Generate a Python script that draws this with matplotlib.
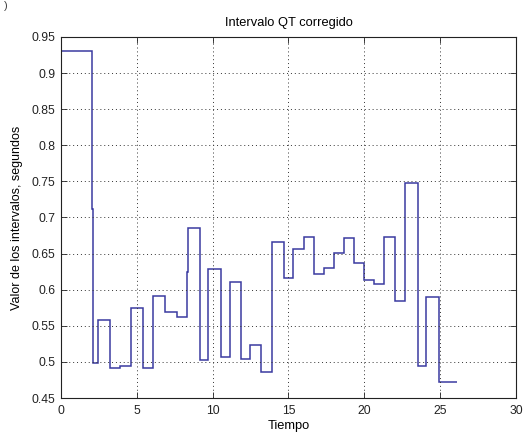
import matplotlib
matplotlib.use("Agg")
import matplotlib.pyplot as plt

# Step edges (time, s) and QTc interval values (s)
edges = [0.0, 2.02, 2.08, 2.46, 3.23, 3.89, 4.59, 5.43, 6.04, 6.88, 7.63, 8.28, 8.37,
         9.17, 9.70, 10.53, 11.12, 11.87, 12.49, 13.17, 13.88, 14.69, 15.31, 16.04,
         16.70, 17.36, 18.02, 18.66, 19.34, 20.00, 20.66, 21.32, 22.05, 22.71, 23.53,
         24.08, 24.95, 26.10]
values = [0.930, 0.712, 0.498, 0.558, 0.491, 0.495, 0.575, 0.491, 0.591, 0.569, 0.562,
          0.625, 0.686, 0.503, 0.629, 0.507, 0.610, 0.504, 0.524, 0.486, 0.666, 0.616,
          0.656, 0.673, 0.622, 0.630, 0.651, 0.671, 0.637, 0.613, 0.608, 0.673, 0.585,
          0.748, 0.495, 0.590, 0.472]

xticks = [0, 5, 10, 15, 20, 25, 30]
yticks = [0.45, 0.5, 0.55, 0.6, 0.65, 0.7, 0.75, 0.8, 0.85, 0.9, 0.95]
ytick_labels = ["0.45", "0.5", "0.55", "0.6", "0.65", "0.7", "0.75", "0.8", "0.85", "0.9", "0.95"]

plt.rcParams['font.family'] = ['Liberation Sans', 'DejaVu Sans']

fig = plt.figure(figsize=(5.24, 4.32), dpi=100)
ax = fig.add_axes([0.1164, 0.0787, 0.8683, 0.8357])

ax.stairs(values, edges, baseline=None, color='#3a3aa0', linewidth=1.1)

ax.set_xlim(0, 30)
ax.set_ylim(0.45, 0.95)
ax.set_xticks(xticks)
ax.set_yticks(yticks)
ax.set_yticklabels(ytick_labels)
ax.tick_params(direction='in', top=True, right=True, labelsize=8.7, length=4,
               width=0.6, colors='#222222', pad=4)
ax.tick_params(axis='x', pad=5)
ax.grid(True, linestyle=(0, (1, 3)), color='#333333', linewidth=0.7)
for s in ax.spines.values():
    s.set_linewidth(0.8)
    s.set_color('#222222')

ax.set_title("Intervalo QT corregido", fontsize=9.3, pad=8)
ax.set_xlabel("Tiempo", fontsize=9.3, labelpad=2)
ax.set_ylabel("Valor de los intervalos, segundos", fontsize=9, labelpad=6)

fig.text(0.008, 0.998, ")", fontsize=8, va='top', ha='left', color='#444444')

fig.savefig("out.png", dpi=100)
